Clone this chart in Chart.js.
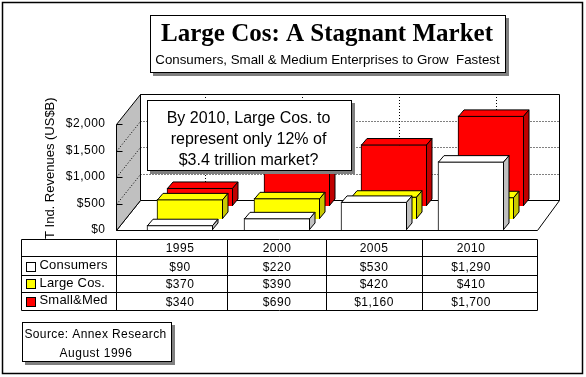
<!DOCTYPE html>
<html>
<head>
<meta charset="utf-8">
<style>html,body{margin:0;padding:0;background:#fff}canvas{display:block}</style>
<script src="https://cdn.jsdelivr.net/npm/chart.js@4/dist/chart.umd.min.js"></script>
</head>
<body>
<canvas id="c" width="586" height="377"></canvas>
<script>
const categories = ['1995', '2000', '2005', '2010'];
const consumers = [90, 220, 530, 1290];
const largeCos = [370, 390, 420, 410];
const smallMed = [340, 690, 1160, 1700];
const seriesNames = ['Consumers', 'Large Cos.', 'Small&Med'];
const titleText = 'Large Cos: A Stagnant Market';
const subtitleText = 'Consumers, Small & Medium Enterprises to Grow  Fastest';
const calloutLines = ['By 2010, Large Cos. to', 'represent only 12% of', '$3.4 trillion market?'];
const sourceLines = ['Source: Annex Research', 'August 1996'];
const axisTitle = 'IT Ind. Revenues (US$B)';
const gridValues = [500, 1000, 1500, 2000];

const SANS = '"Liberation Sans", Arial, sans-serif';
const SERIF = '"Liberation Serif", "Times New Roman", serif';
const looks = [
  {fill: '#ffffff', side: '#c0c0c0', shift: [0, 0]},
  {fill: '#ffff00', side: '#c8c800', shift: [10, -11]},
  {fill: '#ff0000', side: '#c00000', shift: [20, -24]}
];
const BAR_DEPTH = [5.5, -6.5];
const WALL_DEPTH = [24, -30];
const money = v => '$' + v.toLocaleString('en-US');

function txt(ctx, s, x, y, font, align, spacing) {
  ctx.font = font;
  ctx.textAlign = align || 'left';
  ctx.textBaseline = 'alphabetic';
  ctx.letterSpacing = (spacing || 0) + 'px';
  ctx.fillStyle = '#000';
  ctx.fillText(s, x, y);
  ctx.letterSpacing = '0px';
}
function box(ctx, x0, y0, x1, y1) {
  ctx.fillStyle = '#808080';
  ctx.fillRect(x0 + 3, y0 + 3, x1 - x0 + 1, y1 - y0 + 1);
  ctx.fillStyle = '#fff';
  ctx.fillRect(x0, y0, x1 - x0, y1 - y0);
  ctx.strokeStyle = '#000';
  ctx.lineWidth = 1;
  ctx.strokeRect(x0 + .5, y0 + .5, x1 - x0, y1 - y0);
}
function poly(ctx, pts, fill) {
  ctx.beginPath();
  pts.forEach((p, i) => i ? ctx.lineTo(p[0], p[1]) : ctx.moveTo(p[0], p[1]));
  ctx.closePath();
  if (fill) { ctx.fillStyle = fill; ctx.fill(); }
  ctx.stroke();
}
function seg(ctx, x0, y0, x1, y1) {
  ctx.beginPath(); ctx.moveTo(x0, y0); ctx.lineTo(x1, y1); ctx.stroke();
}

const scene = {
  id: 'scene',
  beforeDraw(chart) {
    const ctx = chart.ctx;
    ctx.save();
    ctx.fillStyle = '#fff';
    ctx.fillRect(0, 0, 586, 377);
    ctx.strokeStyle = '#000';
    ctx.lineWidth = 1.5;
    ctx.strokeRect(2.5, 2.5, 580, 371);
    ctx.restore();
    ctx.letterSpacing = '0.5px';
  },
  beforeDatasetsDraw(chart) {
    const ctx = chart.ctx, ys = chart.scales.y, xs = chart.scales.x;
    ctx.letterSpacing = '0px';
    const [wx, wy] = WALL_DEPTH;
    const bottom = ys.getPixelForValue(0), top = ys.getPixelForValue(2000);
    const L = 116.5, R = 537.5;
    ctx.save();
    ctx.strokeStyle = '#000';
    ctx.lineWidth = 1;
    // floor, back wall, left wall
    poly(ctx, [[L, bottom + .5], [R, bottom + .5], [R + 22, bottom + wy + .5], [L + wx, bottom + wy + .5]], '#fff');
    poly(ctx, [[L + wx, top + wy + .5], [R + 22, top + wy + .5], [R + 22, bottom + wy + .5], [L + wx, bottom + wy + .5]], '#fff');
    poly(ctx, [[L, top + .5], [L + wx, top + wy + .5], [L + wx, bottom + wy + .5], [L, bottom + .5]], '#c0c0c0');
    // dotted grid
    ctx.setLineDash([1, 2]);
    gridValues.forEach(v => {
      const y = Math.round(ys.getPixelForValue(v)) + .5;
      if (v < 2000) {
        seg(ctx, L, y, L + wx, y + wy);
        seg(ctx, L + wx, y + wy, R + 22, y + wy);
      }
    });
    categories.forEach((c, i) => {
      const x = Math.round(xs.getPixelForValue(i) + 24.5) + .5;
      seg(ctx, x, top + wy, x, bottom + wy);
    });
    ctx.setLineDash([]);
    gridValues.forEach(v => {
      const y = Math.round(ys.getPixelForValue(v)) + .5;
      seg(ctx, L, y, L + 6, y);
    });
    ctx.restore();
  },
  beforeDatasetDraw(chart, args) {
    const s = looks[args.index].shift;
    chart.ctx.save();
    chart.ctx.translate(s[0], s[1]);
  },
  afterDatasetDraw(chart, args) {
    const ctx = chart.ctx, look = looks[args.index];
    const [dx, dy] = BAR_DEPTH;
    ctx.strokeStyle = '#000';
    ctx.lineWidth = 1;
    args.meta.data.forEach(bar => {
      const l = bar.x - bar.width / 2 + .5, r = bar.x + bar.width / 2 - .5;
      const t = bar.y + .5, b = bar.base - .5;
      poly(ctx, [[l, t], [l + dx, t + dy], [r + dx, t + dy], [r, t]], look.fill);
      poly(ctx, [[r, t], [r + dx, t + dy], [r + dx, b + dy], [r, b]], look.side);
    });
    ctx.restore();
  },
  afterDraw(chart) {
    const ctx = chart.ctx, xs = chart.scales.x;
    ctx.save();
    // axis title (runs under the table)
    ctx.save();
    ctx.translate(54, 170);
    ctx.rotate(-Math.PI / 2);
    txt(ctx, axisTitle, 0, 0, '13px ' + SANS, 'center', 0);
    ctx.restore();

    // heading
    box(ctx, 150, 15, 505, 72);
    txt(ctx, titleText, 327, 41, 'bold 25px ' + SERIF, 'center', 0);
    txt(ctx, subtitleText, 327.5, 64, '13.3px ' + SANS, 'center');

    // callout
    box(ctx, 147, 100, 351, 170);
    const callY = [123, 144, 165];
    calloutLines.forEach((l, i) => txt(ctx, l, 248.5, callY[i], '16px ' + SANS, 'center'));

    // table
    const cols = [21.5, 116.5, 227.5, 326.5, 422.5, 537.5];
    const rows = [239.5, 256.5, 275.5, 292.5, 310.5];
    ctx.fillStyle = '#fff';
    ctx.fillRect(21, 239, 517, 72);
    ctx.strokeStyle = '#000';
    ctx.lineWidth = 1;
    cols.forEach(x => seg(ctx, x, rows[0], x, rows[4]));
    rows.forEach(y => seg(ctx, cols[0], y, cols[5], y));
    const base = [252, 271, 288, 306];
    categories.forEach((c, i) => {
      const x = xs.getPixelForValue(i);
      txt(ctx, c, x, base[0], '12px ' + SANS, 'center', 0.5);
      [consumers, largeCos, smallMed].forEach((arr, r) =>
        txt(ctx, money(arr[i]), x, base[r + 1], '12px ' + SANS, 'center', 0.5));
    });
    const swY = [262, 279, 297], nameY = [269, 287, 304];
    seriesNames.forEach((n, r) => {
      ctx.fillStyle = looks[r].fill;
      ctx.fillRect(26, swY[r], 10, 10);
      ctx.strokeRect(26.5, swY[r] + .5, 9, 9);
      txt(ctx, n, 39.5, nameY[r], '13px ' + SANS, 'left', 0.2);
    });

    // source
    box(ctx, 22, 322, 171, 361);
    txt(ctx, sourceLines[0], 95.5, 338, '12px ' + SANS, 'center', 0.4);
    txt(ctx, sourceLines[1], 96, 357, '12px ' + SANS, 'center', 0.5);
    ctx.restore();
  }
};

new Chart(document.getElementById('c'), {
  type: 'bar',
  plugins: [scene],
  data: {
    labels: categories,
    datasets: [consumers, largeCos, smallMed].map((data, i) => ({
      label: seriesNames[i],
      data,
      backgroundColor: looks[i].fill,
      borderColor: '#000',
      borderWidth: 1,
      barThickness: 66,
      grouped: false,
      clip: false
    }))
  },
  options: {
    responsive: false,
    animation: false,
    devicePixelRatio: 1,
    layout: {padding: {left: 0, top: 124, right: 66.5, bottom: 147}},
    plugins: {legend: {display: false}, title: {display: false}, tooltip: {enabled: false}},
    scales: {
      x: {display: false},
      y: {
        min: 0, max: 2000,
        afterFit(s) { s.width = 131.5; },
        grid: {display: false, drawTicks: false},
        border: {display: false},
        ticks: {
          stepSize: 500,
          padding: 26,
          color: '#000',
          font: {family: 'Liberation Sans', size: 12},
          callback: v => money(v)
        }
      }
    }
  }
});
</script>
</body>
</html>
